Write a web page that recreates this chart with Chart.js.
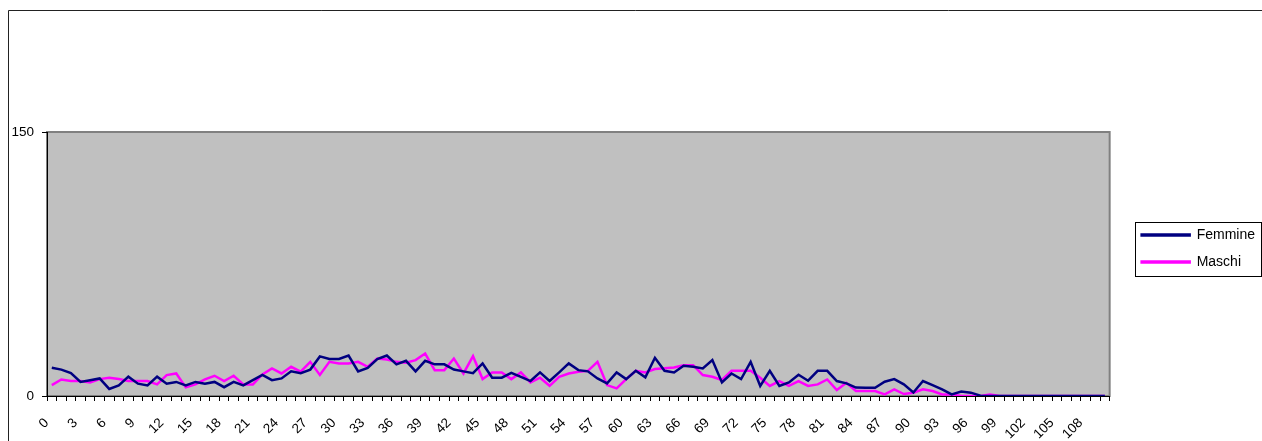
<!DOCTYPE html>
<html lang="it">
<head>
    <meta charset="UTF-8">
    <title>Femmine e Maschi per età</title>
    <script src="https://cdn.jsdelivr.net/npm/chart.js"></script>
    <style>
        html, body { margin: 0; padding: 0; background: #fff; }
        #grafico-container { width: 1262px; height: 441px; position: relative; }
    </style>
</head>
<body>
    <div id="grafico-container">
        <canvas id="miGrafica"></canvas>
    </div>

    <script>
        // età 0..110
        const eta = Array.from({ length: 111 }, (_, i) => String(i));

        const femmine = [
            16, 15, 13, 8, 9, 10, 4, 6, 11, 7,
            6, 11, 7, 8, 6, 8, 7, 8, 5, 8,
            6, 9, 12, 9, 10, 14, 13, 15, 22.5, 21,
            21, 23, 14, 16, 21, 23, 18, 20, 14, 20,
            18, 18, 15, 14, 13, 18.5, 10.4, 10.4, 13.2, 10.9,
            8.5, 13.4, 8.5, 13.4, 18.5, 14.7, 14, 10, 7.2, 13.4,
            9.6, 14.3, 10.6, 21.7, 14.3, 13.4, 17.2, 16.6, 15.7, 20.4,
            7.7, 12.8, 9.6, 19.4, 5.7, 14.3, 5.7, 7.7, 12.1, 8.7,
            14.3, 14.3, 8.5, 7.2, 4.8, 4.7, 4.7, 8.1, 9.6, 6.6,
            2, 8.5, 6.2, 3.8, 0.9, 2.5, 1.9, 0.2, 0, 0,
            0, 0, 0, 0, 0, 0, 0, 0, 0, 0,
            0
        ];

        const maschi = [
            6.2, 9.4, 8.5, 8.5, 7.7, 9.6, 10.4, 9.6, 8.5, 8.5,
            8.5, 6.6, 11.9, 12.8, 4.9, 6.6, 9.4, 11.5, 8.5, 11.5,
            6.6, 6.6, 12.3, 15.7, 12.8, 16.6, 13.8, 19.4, 12, 19.4,
            18.5, 18.5, 19.4, 16.6, 21.3, 20.7, 19.4, 18.9, 20.4, 24.1,
            14.7, 14.7, 21.3, 12.8, 22.6, 9.6, 13.4, 13.4, 9.6, 13.4,
            7.7, 10.4, 5.8, 10.9, 12.8, 13.8, 14.3, 19.4, 6.2, 4.3,
            9.6, 14.3, 13.4, 15.3, 15.7, 16.2, 17.5, 17.5, 11.9, 10.9,
            9.1, 14.3, 14.3, 14.3, 10.4, 5.7, 8.5, 5.7, 8.5, 5.7,
            6.6, 9.4, 3.4, 7.5, 2.8, 2.8, 2.8, 0.9, 3.8, 1.1,
            1.9, 3.8, 2.8, 0.9, 0.9, 0, 0, 0, 0.8, 0,
            0, 0, 0, 0, 0, 0, 0, 0, 0, 0,
            0
        ];

        const tickY = [0, 150];

        const font = { family: '"Liberation Sans", Arial, sans-serif', size: 13.5 };

        // sfondo grigio, bordo area e cornice esterna; riquadro della legenda
        const cornice = {
            id: 'cornice',
            afterLayout(chart) {
                const lg = chart.legend;
                lg.left += 19; lg.right += 19;
                lg.top -= 38; lg.bottom -= 38;
            },
            beforeDraw(chart) {
                const { ctx, chartArea: a } = chart;
                ctx.save();
                ctx.fillStyle = '#c0c0c0';
                ctx.fillRect(a.left, a.top, a.right - a.left, a.bottom - a.top);
                ctx.strokeStyle = '#808080';
                ctx.lineWidth = 2;
                ctx.strokeRect(a.left, a.top, a.right - a.left, a.bottom - a.top);
                ctx.strokeStyle = '#222';
                ctx.lineWidth = 1;
                ctx.beginPath();
                ctx.moveTo(8.5, 441);
                ctx.lineTo(8.5, 10.5);
                ctx.lineTo(1262, 10.5);
                ctx.stroke();
                ctx.restore();
            },
            afterDraw(chart) {
                const boxes = chart.legend.legendHitBoxes;
                if (!boxes || !boxes.length) return;
                const left = Math.min(...boxes.map(b => b.left)) - 7;
                const right = Math.max(...boxes.map(b => b.left + b.width)) + 6;
                const top = boxes[0].top - 6;
                const last = boxes[boxes.length - 1];
                const bottom = last.top + last.height + 7;
                const ctx = chart.ctx;
                ctx.save();
                ctx.strokeStyle = '#000';
                ctx.lineWidth = 1;
                ctx.strokeRect(Math.round(left) + 0.5, Math.round(top) + 0.5,
                    Math.round(right - left), Math.round(bottom - top));
                ctx.restore();
            }
        };

        const ctx = document.getElementById('miGrafica').getContext('2d');
        new Chart(ctx, {
            type: 'line',
            data: {
                labels: eta,
                datasets: [
                    {
                        label: 'Femmine',
                        data: femmine,
                        borderColor: '#000080',
                        backgroundColor: '#000080',
                        borderWidth: 2.5,
                        pointRadius: 0,
                        tension: 0,
                        fill: false
                    },
                    {
                        label: 'Maschi',
                        data: maschi,
                        borderColor: '#ff00ff',
                        backgroundColor: '#ff00ff',
                        borderWidth: 2.5,
                        pointRadius: 0,
                        tension: 0,
                        fill: false
                    }
                ]
            },
            options: {
                responsive: true,
                maintainAspectRatio: false,
                animation: false,
                layout: { padding: { top: 132, right: 16, bottom: 0, left: 0 } },
                scales: {
                    x: {
                        offset: true,
                        grid: { offset: true, drawOnChartArea: false, tickLength: 5, color: '#000' },
                        border: { color: '#000', width: 1 },
                        ticks: {
                            autoSkip: false,
                            minRotation: 45,
                            maxRotation: 45,
                            padding: 14,
                            labelOffset: -5,
                            color: '#000',
                            font: font,
                            callback: (v, i) => (i % 3 === 0 ? eta[i] : '')
                        },
                        afterFit(s) { s.height = 45; }
                    },
                    y: {
                        min: tickY[0],
                        max: tickY[1],
                        ticks: { stepSize: tickY[1] - tickY[0], padding: 8, color: '#000', font: font },
                        grid: { drawOnChartArea: false, tickLength: 5, color: '#000' },
                        border: { color: '#000', width: 1 },
                        afterFit(s) { s.width = 47; }
                    }
                },
                plugins: {
                    legend: {
                        display: true,
                        position: 'right',
                        labels: {
                            boxWidth: 48,
                            boxHeight: 1,
                            padding: 13,
                            color: '#000',
                            font: { family: '"Liberation Sans", Arial, sans-serif', size: 14 }
                        }
                    },
                    tooltip: { enabled: false }
                }
            },
            plugins: [cornice]
        });
    </script>
</body>
</html>
